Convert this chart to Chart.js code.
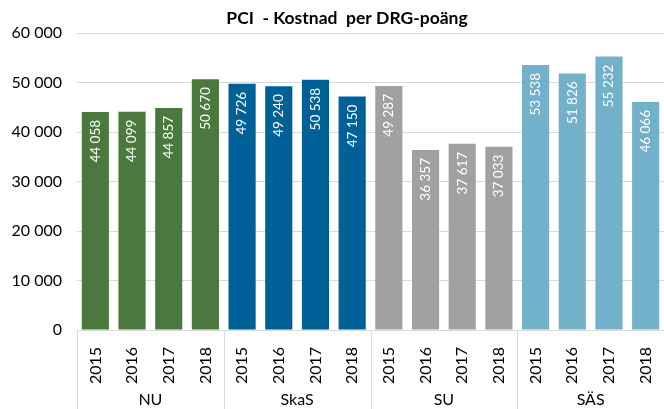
<!DOCTYPE html>
<html>
<head>
<meta charset="utf-8">
<script src="https://cdn.jsdelivr.net/npm/chart.js@4"></script>
<style>
  html, body { margin: 0; padding: 0; background: #fff; }
  #wrap { width: 664px; height: 409px; }
</style>
</head>
<body>
<div id="wrap"><canvas id="c" width="664" height="409"></canvas></div>
<script>
const groups = ['NU', 'SkaS', 'SU', 'SÄS'];
const years = ['2015', '2016', '2017', '2018'];
const values = [
  44058, 44099, 44857, 50670,
  49726, 49240, 50538, 47150,
  49287, 36357, 37617, 37033,
  53538, 51826, 55232, 46066
];
const groupColors = ['#4b783d', '#006098', '#a0a2a2', '#73b1ca'];
const yTicks = [0, 10000, 20000, 30000, 40000, 50000, 60000];

const labels = [];
const colors = [];
groups.forEach((g, gi) => years.forEach(y => { labels.push(y); colors.push(groupColors[gi]); }));

function fmt(n) {
  return String(n).replace(/\B(?=(\d{3})+(?!\d))/g, ' ');
}

const FONT = 'Lato, "Open Sans", sans-serif';

const barLabels = {
  id: 'barLabels',
  afterDatasetsDraw(chart) {
    const ctx = chart.ctx;
    const meta = chart.getDatasetMeta(0);
    ctx.save();
    ctx.fillStyle = '#ffffff';
    ctx.font = '13.5px ' + FONT;
    ctx.textAlign = 'right';
    ctx.textBaseline = 'middle';
    meta.data.forEach((bar, i) => {
      ctx.save();
      ctx.translate(bar.x, bar.y + 8);
      ctx.rotate(-Math.PI / 2);
      ctx.fillText(fmt(values[i]), 0, 0);
      ctx.restore();
    });
    ctx.restore();
  }
};

// group names under the years + thin separators
const groupAxis = {
  id: 'groupAxis',
  afterDraw(chart) {
    const ctx = chart.ctx;
    const xs = chart.scales.x;
    const half = (xs.getPixelForValue(1) - xs.getPixelForValue(0)) / 2;
    const bottom = chart.chartArea.bottom;
    ctx.save();
    ctx.strokeStyle = '#d9d9d9';
    ctx.lineWidth = 1;
    ctx.fillStyle = '#000';
    ctx.font = '16px ' + FONT;
    ctx.textAlign = 'center';
    ctx.textBaseline = 'middle';
    groups.forEach((g, gi) => {
      const left = Math.round(xs.getPixelForValue(gi * 4) - half) + 0.5;
      ctx.beginPath();
      ctx.moveTo(left, bottom);
      ctx.lineTo(left, chart.height);
      ctx.stroke();
      const mid = (xs.getPixelForValue(gi * 4) + xs.getPixelForValue(gi * 4 + 3)) / 2;
      ctx.fillText(g, mid, 400);
    });
    ctx.restore();
  }
};

const plotTitle = {
  id: 'plotTitle',
  afterDraw(chart) {
    const ctx = chart.ctx;
    ctx.save();
    ctx.fillStyle = '#000';
    ctx.font = 'bold 17.5px ' + FONT;
    ctx.textAlign = 'center';
    ctx.textBaseline = 'middle';
    ctx.fillText('PCI  - Kostnad  per DRG-poäng', 347, 18);
    ctx.restore();
  }
};

new Chart(document.getElementById('c'), {
  type: 'bar',
  data: {
    labels,
    datasets: [{ data: values, backgroundColor: colors, barPercentage: 0.74, categoryPercentage: 1 }]
  },
  plugins: [barLabels, groupAxis, plotTitle],
  options: {
    responsive: false,
    animation: false,
    layout: { padding: { left: 0, right: -3, top: 33, bottom: 0 } },
    plugins: {
      legend: { display: false },
      tooltip: { enabled: false },
      title: { display: false }
    },
    scales: {
      x: {
        grid: { display: false },
        border: { display: true, color: '#d9d9d9' },
        afterFit: s => { s.height = 79; s.paddingLeft = 0; s.paddingRight = 0; },
        ticks: {
          color: '#000', font: { family: FONT, size: 16 },
          minRotation: 90, maxRotation: 90, padding: 9, autoSkip: false
        }
      },
      y: {
        min: 0, max: 60000,
        afterFit: s => { s.width = 77; s.paddingTop = 0; },
        afterBuildTicks: s => { s.ticks = yTicks.map(v => ({ value: v })); },
        border: { display: false },
        grid: { color: '#d9d9d9', drawTicks: false },
        ticks: {
          color: '#000', font: { family: FONT, size: 16 }, padding: 15,
          callback: v => fmt(v)
        }
      }
    }
  }
});
</script>
</body>
</html>
